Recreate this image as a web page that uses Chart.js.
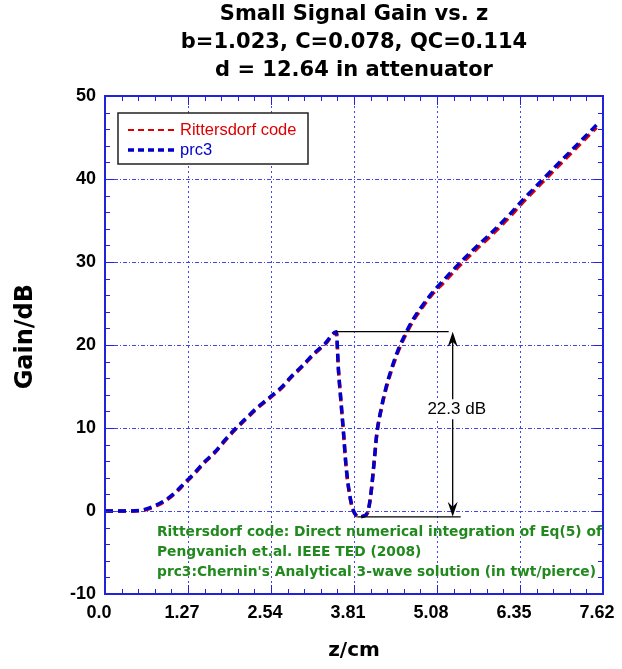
<!DOCTYPE html>
<html>
<head>
<meta charset="utf-8">
<title>Small Signal Gain vs. z</title>
<script src="https://cdn.jsdelivr.net/npm/chart.js@4.4.1/dist/chart.umd.min.js"></script>
<style>
    html, body { margin: 0; padding: 0; background: #ffffff; }
    #wrap { width: 622px; height: 669px; }
</style>
</head>
<body>
<div id="wrap"><canvas id="gain-chart" width="622" height="669"></canvas></div>
<script>
// axial position along the tube (cm)
const zValues = [
    0, 0.2, 0.38, 0.56, 0.72, 0.88, 1.04, 1.22, 1.37, 1.52, 1.68, 1.83, 1.98, 2.16, 2.32,
    2.52, 2.70, 2.85, 3.02, 3.20, 3.37, 3.54, 3.57, 3.61, 3.65, 3.69, 3.75, 3.80, 3.84,
    3.89, 3.96, 4.02, 4.07, 4.12, 4.16, 4.22, 4.30, 4.39, 4.50, 4.60, 4.70, 4.88, 5.03,
    5.18, 5.37, 5.52, 5.69, 5.87, 6.20, 6.36, 6.68, 6.98, 7.32, 7.52
];

// gain from Chernin's analytical 3-wave solution (dB)
const prc3Gain = [
    0, 0, 0, 0.1, 0.5, 1.1, 2.0, 3.4, 4.6, 5.9, 7.1, 8.5, 9.8, 11.2, 12.4,
    13.7, 14.9, 16.2, 17.5, 19.0, 20.2, 21.6, 17.3, 13.3, 9.4, 5.3, 1.7, 0.1, -0.5,
    -0.7, -0.6, -0.1, 2.2, 6.1, 9.4, 12.1, 14.9, 17.3, 19.7, 21.4, 22.9, 25.0, 26.5,
    27.8, 29.4, 30.6, 31.9, 33.2, 35.8, 37.2, 39.8, 42.2, 44.9, 46.5
];

// gain from direct numerical integration (dB)
const rittersdorfGain = [
    0, 0, 0, 0.05, 0.4, 1.0, 1.9, 3.3, 4.5, 5.8, 7.0, 8.4, 9.7, 11.1, 12.3,
    13.6, 14.8, 16.1, 17.4, 18.9, 20.1, 21.5, 17.2, 13.2, 9.3, 5.2, 1.6, 0.0, -0.5,
    -0.7, -0.6, -0.2, 2.1, 6.0, 9.3, 12.0, 14.7, 17.1, 19.5, 21.2, 22.7, 24.8, 26.3,
    27.5, 29.1, 30.3, 31.6, 32.9, 35.5, 36.9, 39.5, 41.9, 44.6, 46.2
];

const xTickValues = [0, 1.27, 2.54, 3.81, 5.08, 6.35, 7.62];
const xTickLabels = ['0.0', '1.27', '2.54', '3.81', '5.08', '6.35', '7.62'];
const yTickValues = [-10, 0, 10, 20, 30, 40, 50];

const titleLines = [
    'Small Signal Gain vs. z',
    'b=1.023, C=0.078, QC=0.114',
    'd = 12.64 in attenuator'
];
const noteLines = [
    'Rittersdorf code: Direct numerical integration of Eq(5) of',
    'Pengvanich et.al. IEEE TED (2008)',
    "prc3:Chernin's Analytical 3-wave solution (in twt/pierce)"
];

// gain drop across the attenuator
const dropTop = 21.6;
const dropBottom = -0.7;
const dropZPeak = 3.54;
const dropZMin = 3.86;
const dropZArrow = 5.32;

const FONT = '"Liberation Sans", Arial, Helvetica, sans-serif';
const WIDE = '"DejaVu Sans", Verdana, sans-serif';
const AXIS_BLUE = '#2222dd';
const GRID_BLUE = '#4444ee';
const RED = '#dd0000';
const BLUE = '#0000cc';
const NOTE_GREEN = '#22891f';

function toPoints(xs, ys) {
    return xs.map((x, i) => ({ x, y: ys[i] }));
}

// box frame with inward major/minor ticks on all four sides
const frameTicks = {
    id: 'frameTicks',
    afterDatasetsDraw(chart) {
        const { ctx, chartArea: a, scales: { x, y } } = chart;
        ctx.save();
        ctx.strokeStyle = AXIS_BLUE;
        ctx.lineWidth = 1;
        ctx.beginPath();
        for (let i = 0; i <= 30; i++) {
            const px = Math.round(x.getPixelForValue(i * 0.254)) + 0.5;
            const len = i % 5 === 0 ? 9 : 5;
            ctx.moveTo(px, a.bottom); ctx.lineTo(px, a.bottom - len);
            ctx.moveTo(px, a.top); ctx.lineTo(px, a.top + len);
        }
        for (let v = -10; v <= 50; v += 2) {
            const py = Math.round(y.getPixelForValue(v)) + 0.5;
            const len = v % 10 === 0 ? 9 : 5;
            ctx.moveTo(a.left, py); ctx.lineTo(a.left + len, py);
            ctx.moveTo(a.right, py); ctx.lineTo(a.right - len, py);
        }
        ctx.stroke();
        ctx.lineWidth = 2;
        ctx.strokeRect(a.left, a.top, a.right - a.left, a.bottom - a.top);
        ctx.restore();
    }
};

// legend box, attenuator annotation and the notes
const overlays = {
    id: 'overlays',
    afterDraw(chart) {
        const { ctx, chartArea: a, scales: { x, y } } = chart;
        ctx.save();

        // legend
        const lx = a.left + 13, ly = a.top + 17;
        ctx.fillStyle = '#ffffff';
        ctx.fillRect(lx, ly, 190, 51);
        ctx.strokeStyle = '#222222';
        ctx.lineWidth = 1.5;
        ctx.strokeRect(lx, ly, 190, 51);
        const entries = [
            { text: 'Rittersdorf code', color: RED, width: 2 },
            { text: 'prc3', color: BLUE, width: 3.5 }
        ];
        ctx.font = '16.5px ' + FONT;
        ctx.textBaseline = 'middle';
        entries.forEach((e, i) => {
            const ey = ly + 17 + i * 20;
            ctx.strokeStyle = e.color;
            ctx.lineWidth = e.width;
            ctx.setLineDash([6, 4]);
            ctx.beginPath();
            ctx.moveTo(lx + 10, ey);
            ctx.lineTo(lx + 60, ey);
            ctx.stroke();
            ctx.setLineDash([]);
            ctx.fillStyle = e.color;
            ctx.fillText(e.text, lx + 62, ey);
        });

        // 22.3 dB drop marker
        const yTop = y.getPixelForValue(dropTop);
        const yBot = y.getPixelForValue(dropBottom);
        const xa = x.getPixelForValue(dropZArrow);
        ctx.strokeStyle = '#000000';
        ctx.lineWidth = 1.3;
        ctx.beginPath();
        ctx.moveTo(x.getPixelForValue(dropZPeak), yTop);
        ctx.lineTo(xa - 4, yTop);
        ctx.moveTo(x.getPixelForValue(dropZMin), yBot);
        ctx.lineTo(xa + 8, yBot);
        ctx.moveTo(xa, yTop + 6);
        ctx.lineTo(xa, yBot - 6);
        ctx.stroke();
        ctx.fillStyle = '#000000';
        [[yTop, 1], [yBot, -1]].forEach(([tip, dir]) => {
            ctx.beginPath();
            ctx.moveTo(xa, tip);
            ctx.lineTo(xa - 5, tip + dir * 15);
            ctx.lineTo(xa, tip + dir * 10);
            ctx.lineTo(xa + 5, tip + dir * 15);
            ctx.closePath();
            ctx.fill();
        });
        const label = (dropTop - dropBottom).toFixed(1) + ' dB';
        ctx.font = '17px ' + FONT;
        ctx.textAlign = 'center';
        const lw = ctx.measureText(label).width;
        const ly2 = (yTop + yBot) / 2 - 15;
        ctx.fillStyle = '#ffffff';
        ctx.fillRect(xa + 4 - lw / 2 - 2, ly2 - 10, lw + 4, 20);
        ctx.fillStyle = '#000000';
        ctx.fillText(label, xa + 4, ly2);

        // notes
        ctx.textAlign = 'left';
        ctx.font = 'bold 13.8px ' + WIDE;
        ctx.fillStyle = NOTE_GREEN;
        noteLines.forEach((t, i) => ctx.fillText(t, a.left + 52, a.bottom - 62 + i * 20));

        ctx.restore();
    }
};

new Chart(document.getElementById('gain-chart'), {
    type: 'line',
    data: {
        datasets: [
            {
                label: 'prc3',
                data: toPoints(zValues, prc3Gain),
                borderColor: BLUE,
                borderWidth: 3.5,
                borderDash: [8, 5],
                pointRadius: 0,
                cubicInterpolationMode: 'monotone',
                order: 1
            },
            {
                label: 'Rittersdorf code',
                data: toPoints(zValues, rittersdorfGain),
                borderColor: RED,
                borderWidth: 3.5,
                borderDash: [8, 5],
                pointRadius: 0,
                cubicInterpolationMode: 'monotone',
                order: 2
            }
        ]
    },
    options: {
        responsive: false,
        animation: false,
        layout: { padding: { top: 0, left: 0, right: 19, bottom: 0 } },
        plugins: {
            legend: { display: false },
            tooltip: { enabled: false },
            title: {
                display: true,
                fullSize: false,
                text: titleLines,
                color: '#000000',
                font: { family: WIDE, size: 21, weight: 'bold', lineHeight: 28 / 21 },
                padding: { top: 1, bottom: 11 }
            }
        },
        scales: {
            x: {
                type: 'linear',
                min: 0,
                max: 7.62,
                afterFit: scale => {
                    scale.height = 75;
                    // end labels may overhang the frame; keep the plot width fixed
                    scale.paddingLeft = 0;
                    scale.paddingRight = 0;
                },
                afterBuildTicks: scale => { scale.ticks = xTickValues.map(v => ({ value: v })); },
                ticks: {
                    callback: (v, i) => xTickLabels[i],
                    color: '#000000',
                    font: { family: FONT, size: 18, weight: 'bold' },
                    padding: 8,
                    labelOffset: -6,
                    maxRotation: 0
                },
                grid: { color: GRID_BLUE, lineWidth: 1, drawTicks: false },
                border: { display: false, dash: [2, 3] },
                title: {
                    display: true,
                    text: 'z/cm',
                    color: '#000000',
                    font: { family: WIDE, size: 20, weight: 'bold' },
                    padding: { top: 0, bottom: 6 }
                }
            },
            y: {
                min: -10,
                max: 50,
                afterFit: scale => { scale.width = 105; },
                afterBuildTicks: scale => { scale.ticks = yTickValues.map(v => ({ value: v })); },
                ticks: {
                    color: '#000000',
                    font: { family: FONT, size: 18, weight: 'bold' },
                    padding: 9
                },
                grid: { color: GRID_BLUE, lineWidth: 1, drawTicks: false },
                border: { display: false, dash: [4, 2, 1, 2] },
                title: {
                    display: true,
                    text: '  Gain/dB',
                    color: '#000000',
                    font: { family: WIDE, size: 24, weight: 'bold' },
                    padding: { top: 11, bottom: 0 }
                }
            }
        }
    },
    plugins: [frameTicks, overlays]
});
</script>
</body>
</html>
